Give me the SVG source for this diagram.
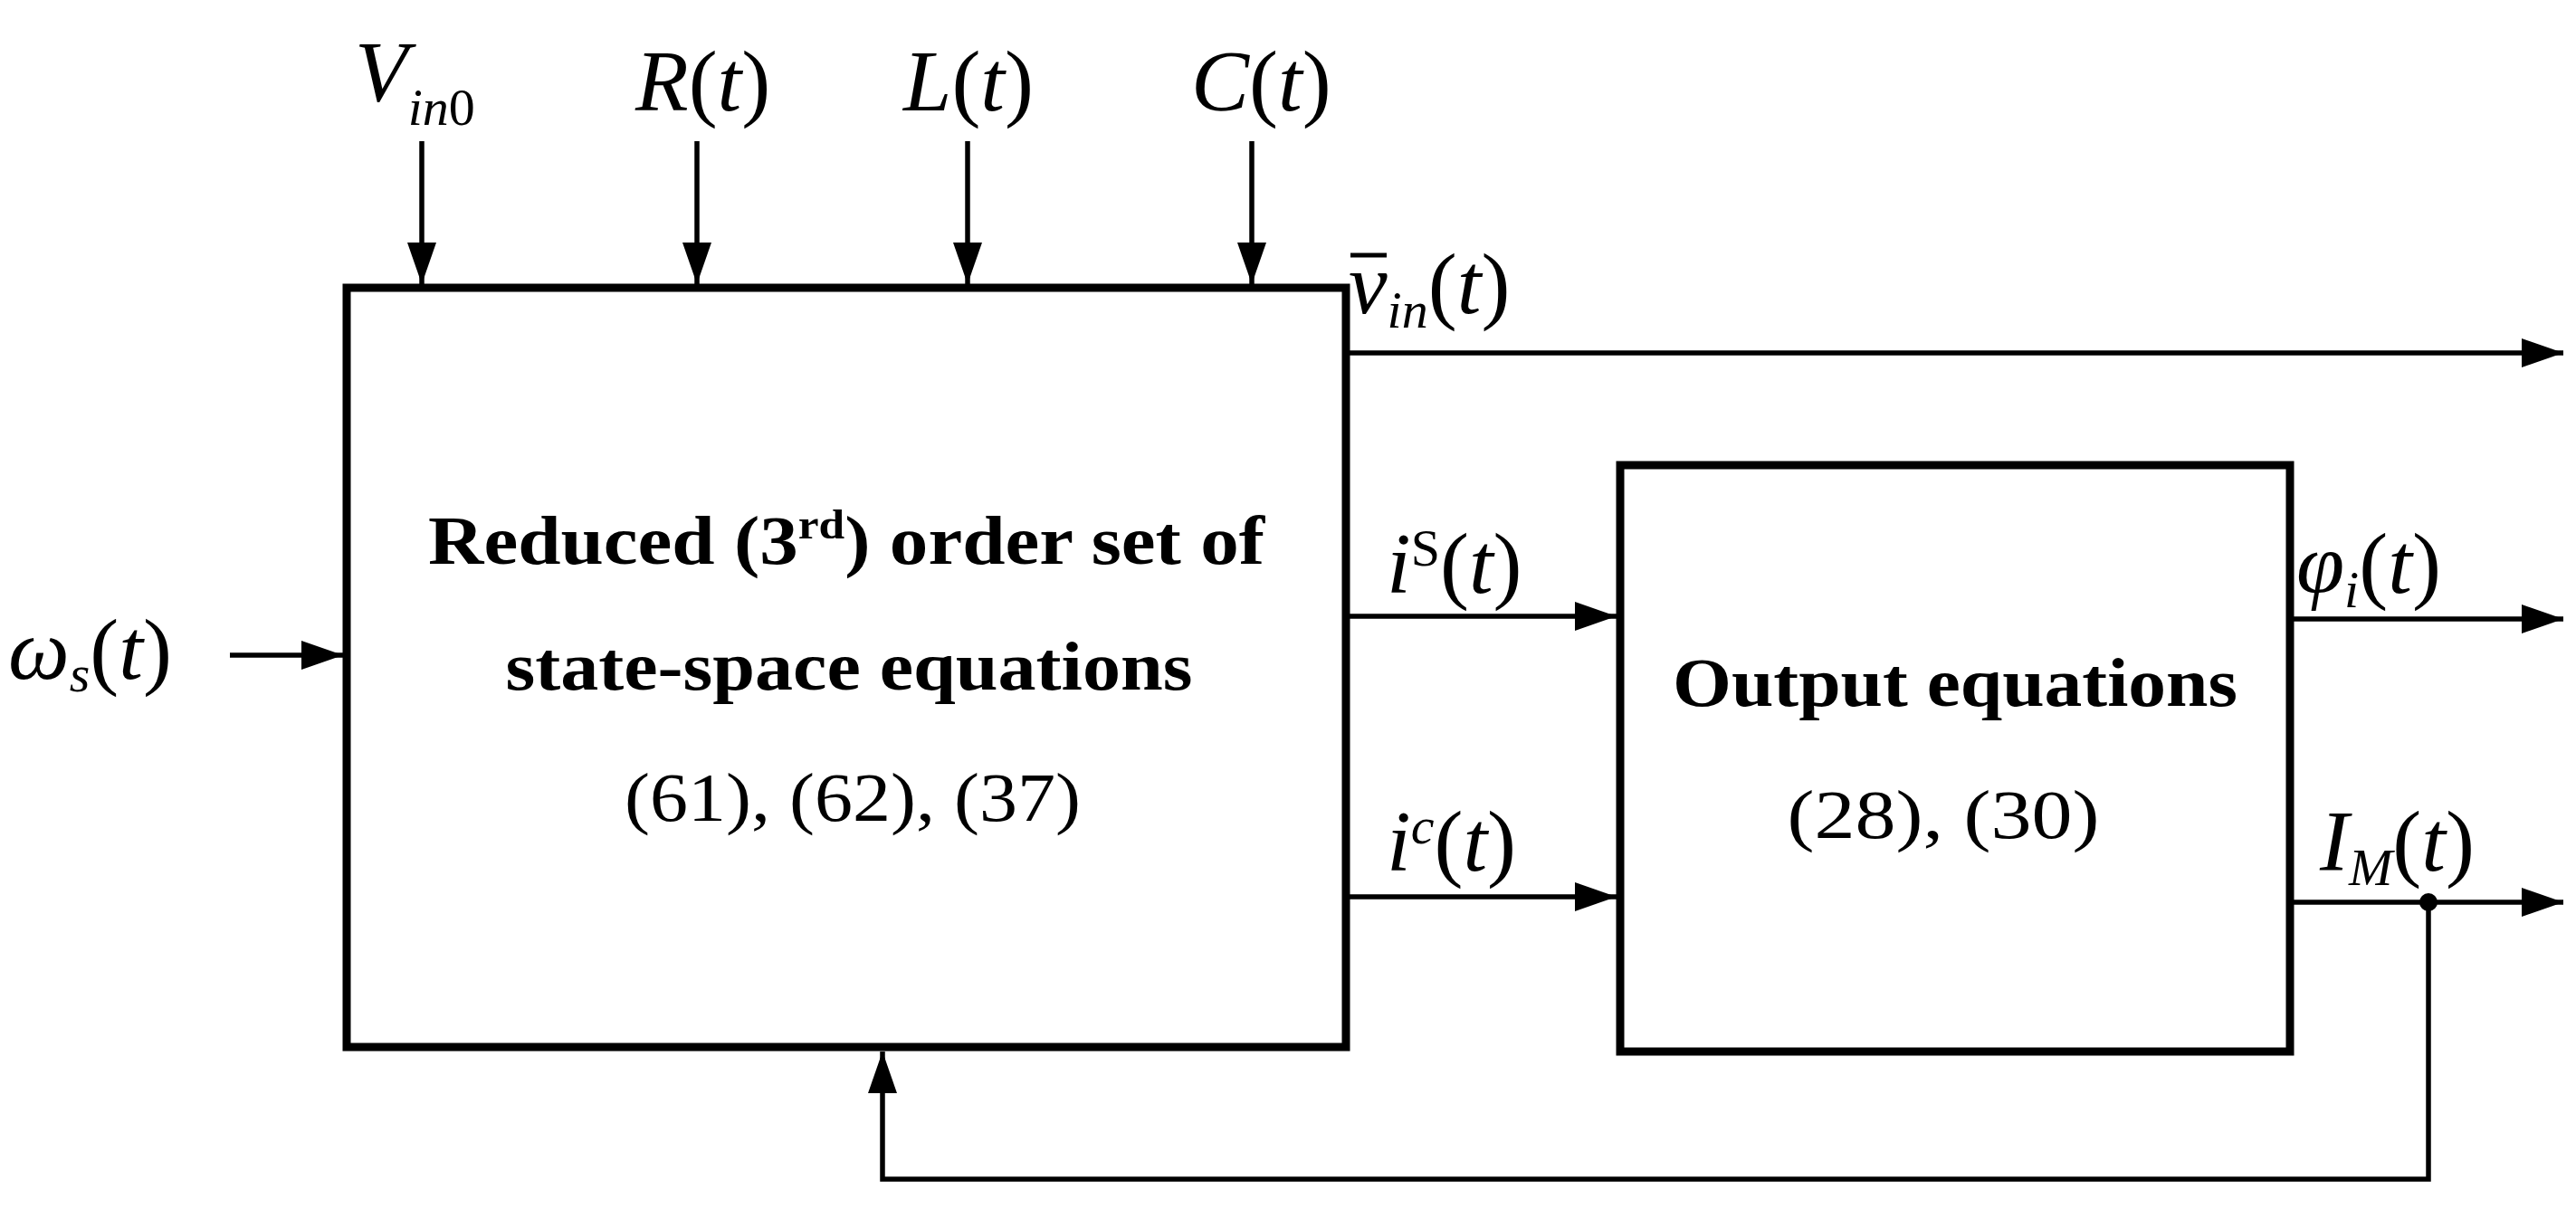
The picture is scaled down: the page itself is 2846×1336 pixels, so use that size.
<svg xmlns="http://www.w3.org/2000/svg" width="2846" height="1336" viewBox="0 0 2846 1336">
<style>
.box{fill:#fff;stroke:#000;stroke-width:9}
.ln{fill:none;stroke:#000;stroke-width:5.5}
.m{font-family:"Liberation Serif",serif;font-style:italic;font-size:96px}
.r{font-family:"Liberation Serif",serif;font-size:96px;font-style:normal}
.sub{font-size:58px}
.b{font-family:"Liberation Serif",serif;font-weight:bold;font-size:76px;text-anchor:middle}
.n{font-family:"Liberation Serif",serif;font-size:76px;text-anchor:middle}
</style>
<defs>
<marker id="ah" markerUnits="userSpaceOnUse" markerWidth="48" markerHeight="34" refX="46" refY="16" orient="auto">
<path d="M0,0 L46,16 L0,32 Z" fill="#000"/>
</marker>
</defs>
<g id="connectors">
<line class="ln" x1="466" y1="156" x2="466" y2="314" marker-end="url(#ah)"/>
<line class="ln" x1="770" y1="156" x2="770" y2="314" marker-end="url(#ah)"/>
<line class="ln" x1="1069" y1="156" x2="1069" y2="314" marker-end="url(#ah)"/>
<line class="ln" x1="1383" y1="156" x2="1383" y2="314" marker-end="url(#ah)"/>
<line class="ln" x1="254" y1="724" x2="379" y2="724" marker-end="url(#ah)"/>
<line class="ln" x1="1490" y1="390" x2="2832" y2="390" marker-end="url(#ah)"/>
<line class="ln" x1="1490" y1="681" x2="1786" y2="681" marker-end="url(#ah)"/>
<line class="ln" x1="1490" y1="991" x2="1786" y2="991" marker-end="url(#ah)"/>
<line class="ln" x1="2533" y1="684" x2="2832" y2="684" marker-end="url(#ah)"/>
<line class="ln" x1="2533" y1="997" x2="2832" y2="997" marker-end="url(#ah)"/>
<polyline class="ln" points="2683,997 2683,1303 975,1303 975,1162" marker-end="url(#ah)"/>
<circle cx="2683" cy="997" r="10" fill="#000"/>
</g>
<g id="inputs">
<text class="m" x="392" y="112" font-size="112">V<tspan class="sub" dy="26">in</tspan><tspan class="r sub">0</tspan></text>
<text class="m" x="702" y="122">R<tspan class="r">(</tspan>t<tspan class="r">)</tspan></text>
<text class="m" x="998" y="122">L<tspan class="r">(</tspan>t<tspan class="r">)</tspan></text>
<text class="m" x="1316" y="122">C<tspan class="r">(</tspan>t<tspan class="r">)</tspan></text>
<text class="m" x="9" y="750">ω<tspan class="sub" dy="14">s</tspan><tspan class="r" dy="-14">(</tspan>t<tspan class="r">)</tspan></text>
</g>
<g id="state-block">
<rect class="box" x="383" y="318" width="1104" height="839"/>
<text class="b" x="935" y="623" textLength="924" lengthAdjust="spacingAndGlyphs">Reduced (3<tspan font-size="46" dy="-28">rd</tspan><tspan dy="28">) order set of</tspan></text>
<text class="b" x="938" y="762" textLength="759" lengthAdjust="spacingAndGlyphs">state-space equations</text>
<text class="n" x="942" y="907" textLength="504" lengthAdjust="spacingAndGlyphs">(61), (62), (37)</text>
</g>
<g id="output-block">
<rect class="box" x="1790" y="514" width="740" height="648"/>
<text class="b" x="2160" y="780" textLength="624" lengthAdjust="spacingAndGlyphs">Output equations</text>
<text class="n" x="2147" y="926" textLength="345" lengthAdjust="spacingAndGlyphs">(28), (30)</text>
</g>
<g id="labels">
<text class="m" x="1490" y="346">v<tspan class="sub" dy="16">in</tspan><tspan class="r" dy="-16">(</tspan>t<tspan class="r">)</tspan></text>
<line x1="1492" y1="282" x2="1532" y2="282" stroke="#000" stroke-width="5"/>
<text class="m" x="1532" y="655">i<tspan class="r sub" dy="-30">S</tspan><tspan class="r" dy="30">(</tspan>t<tspan class="r">)</tspan></text>
<text class="m" x="1532" y="962">i<tspan class="sub" dy="-30">c</tspan><tspan class="r" dy="30">(</tspan>t<tspan class="r">)</tspan></text>
<text class="m" x="2537" y="655">φ<tspan class="sub" dy="16">i</tspan><tspan class="r" dy="-16">(</tspan>t<tspan class="r">)</tspan></text>
<text class="m" x="2563" y="962">I<tspan class="sub" dy="16">M</tspan><tspan class="r" dy="-16">(</tspan>t<tspan class="r">)</tspan></text>
</g>
</svg>
